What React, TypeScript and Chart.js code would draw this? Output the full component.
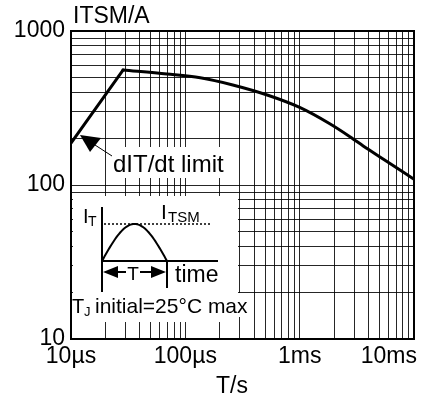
import { useEffect, useRef } from 'react';
import { Chart, registerables } from 'chart.js';

Chart.register(...registerables);

// ---- data ----
const riseT = [1e-5, 2.85e-5];
const riseI = [187, 558];
const decayT = [2.85e-5, 6.9e-5, 1.35e-4, 2.6e-4, 5.2e-4, 1e-3, 1.85e-3, 2.75e-3, 3.85e-3, 5.8e-3, 1e-2];
const decayI = [558, 526, 497, 446, 384, 319, 249, 206, 173, 142, 109];

const xTickValues = [1e-5, 1e-4, 1e-3, 1e-2];
const xTickLabels = ['10µs', '100µs', '1ms', '10ms'];
const yTickValues = [10, 100, 1000];
const yTickLabels = ['10', '100', '1000'];

const yTitle = 'ITSM/A';
const xTitle = 'T/s';
const limitLabel = 'dIT/dt limit';
const insetConditionMain = 'T';
const insetConditionSub = 'J';
const insetConditionRest = 'initial=25°C max';

const FF = '"Liberation Sans", Arial, Helvetica, sans-serif';

function decadeTicks(lo: number, hi: number): number[] {
  const out: number[] = [];
  for (let e = lo; e < hi; e++) {
    for (let m = 1; m < 10; m++) out.push(m * Math.pow(10, e));
  }
  out.push(Math.pow(10, hi));
  return out;
}

const xGrid = decadeTicks(-5, -2);
const yGrid = decadeTicks(1, 3);

function near(a: number, b: number) {
  return Math.abs(a - b) <= Math.abs(b) * 1e-6;
}

const overlayPlugin = {
  id: 'overlay',
  beforeDatasetsDraw(chart: any) {
    const ctx = chart.ctx as CanvasRenderingContext2D;
    ctx.save();
    ctx.fillStyle = '#fff';
    // inset panel
    ctx.fillRect(73, 196, 165, 126);
    ctx.fillRect(73, 293, 178, 24);
    // label background
    ctx.fillRect(110, 147, 118, 31);
    ctx.restore();
  },
  afterDraw(chart: any) {
    const ctx = chart.ctx as CanvasRenderingContext2D;
    const ca = chart.chartArea;
    const xs = chart.scales.x;
    ctx.save();
    ctx.strokeStyle = '#000';
    ctx.fillStyle = '#000';
    ctx.lineWidth = 2;
    ctx.strokeRect(ca.left, ca.top, ca.right - ca.left, ca.bottom - ca.top);

    // x tick labels
    ctx.font = `23px ${FF}`;
    ctx.textBaseline = 'alphabetic';
    xTickValues.forEach((v, i) => {
      const px = xs.getPixelForValue(v);
      const last = i === xTickValues.length - 1;
      ctx.textAlign = last ? 'right' : 'center';
      ctx.fillText(xTickLabels[i], last ? px + 3 : px, 363);
    });

    // axis titles
    ctx.textAlign = 'center';
    ctx.fillText(xTitle, 232, 393);
    ctx.textAlign = 'left';
    ctx.fillText(yTitle, 73, 23);

    // dI/dt label with arrow
    ctx.font = `24px ${FF}`;
    ctx.fillText(limitLabel, 113, 172);
    ctx.beginPath();
    ctx.moveTo(80, 135);
    ctx.lineTo(101, 138);
    ctx.lineTo(90, 152);
    ctx.closePath();
    ctx.fill();
    ctx.lineWidth = 1;
    ctx.beginPath();
    ctx.moveTo(95, 145);
    ctx.lineTo(112, 156);
    ctx.stroke();

    // inset sketch
    ctx.lineWidth = 2;
    const seg = (x1: number, y1: number, x2: number, y2: number) => {
      ctx.beginPath();
      ctx.moveTo(x1, y1);
      ctx.lineTo(x2, y2);
      ctx.stroke();
    };
    seg(102, 207, 102, 292);
    seg(101, 261, 218, 261);
    seg(167, 261, 167, 288);
    ctx.beginPath();
    for (let k = 0; k <= 50; k++) {
      const u = k / 50;
      const x = 102 + 65 * u;
      const y = 261 - 37 * Math.sin(Math.PI * u);
      if (k === 0) ctx.moveTo(x, y);
      else ctx.lineTo(x, y);
    }
    ctx.stroke();
    ctx.setLineDash([2, 2]);
    ctx.lineWidth = 1.5;
    seg(104, 224, 212, 224);
    ctx.setLineDash([]);
    ctx.lineWidth = 2;
    seg(112, 272, 126, 272);
    seg(140, 272, 156, 272);
    ctx.beginPath();
    ctx.moveTo(103, 272);
    ctx.lineTo(118, 266);
    ctx.lineTo(118, 278);
    ctx.closePath();
    ctx.fill();
    ctx.beginPath();
    ctx.moveTo(166, 272);
    ctx.lineTo(151, 266);
    ctx.lineTo(151, 278);
    ctx.closePath();
    ctx.fill();

    ctx.textAlign = 'center';
    ctx.font = `19px ${FF}`;
    ctx.fillText('T', 133, 280);

    ctx.textAlign = 'left';
    ctx.font = `20px ${FF}`;
    ctx.fillText('I', 83, 223);
    ctx.font = `14px ${FF}`;
    ctx.fillText('T', 88, 226);

    ctx.font = `21px ${FF}`;
    ctx.fillText('I', 161, 219);
    ctx.font = `15px ${FF}`;
    ctx.fillText('TSM', 168, 222);

    ctx.font = `23px ${FF}`;
    ctx.fillText('time', 175, 282);

    ctx.font = `20px ${FF}`;
    ctx.fillText(insetConditionMain, 72, 313);
    ctx.font = `13px ${FF}`;
    ctx.fillText(insetConditionSub, 84, 316);
    ctx.font = `21px ${FF}`;
    ctx.fillText(insetConditionRest, 95, 313);

    ctx.restore();
  },
};

export default function App() {
  const ref = useRef<HTMLCanvasElement>(null);

  useEffect(() => {
    document.body.style.margin = '0';
    const canvas = ref.current;
    if (!canvas) return;
    const chart = new Chart(canvas, {
      type: 'line',
      data: {
        datasets: [
          {
            label: 'rise',
            data: riseT.map((t, i) => ({ x: t, y: riseI[i] })),
            borderColor: '#000',
            borderWidth: 3,
            pointRadius: 0,
            borderCapStyle: 'round',
            tension: 0,
          },
          {
            label: 'decay',
            data: decayT.map((t, i) => ({ x: t, y: decayI[i] })),
            borderColor: '#000',
            borderWidth: 3,
            pointRadius: 0,
            borderCapStyle: 'round',
            cubicInterpolationMode: 'monotone',
          },
        ],
      },
      options: {
        animation: false,
        responsive: false,
        devicePixelRatio: 1,
        layout: { padding: { left: 0, top: 31, right: 8, bottom: 0 } },
        plugins: { legend: { display: false }, tooltip: { enabled: false } },
        scales: {
          x: {
            type: 'logarithmic',
            min: 1e-5,
            max: 1e-2,
            afterBuildTicks: (s: any) => {
              s.ticks = xGrid.map((v) => ({ value: v }));
            },
            afterFit: (s: any) => {
              s.height = 62;
            },
            ticks: { display: false, autoSkip: false },
            grid: { color: 'rgba(0,0,0,0.85)', lineWidth: 1, drawTicks: false },
            border: { display: true, color: '#000', width: 2 },
          },
          y: {
            type: 'logarithmic',
            min: 10,
            max: 1000,
            afterBuildTicks: (s: any) => {
              s.ticks = yGrid.map((v) => ({ value: v }));
            },
            afterFit: (s: any) => {
              s.width = 71;
            },
            ticks: {
              autoSkip: false,
              padding: 6,
              color: '#000',
              font: { family: FF, size: 23 },
              callback: (value: any) => {
                const i = yTickValues.findIndex((v) => near(Number(value), v));
                return i >= 0 ? yTickLabels[i] : '';
              },
            },
            grid: { color: 'rgba(0,0,0,0.85)', lineWidth: 1, drawTicks: false },
            border: { display: true, color: '#000', width: 2 },
          },
        },
      },
      plugins: [overlayPlugin],
    } as any);
    return () => chart.destroy();
  }, []);

  return (
    <div style={{ width: 422, height: 401, background: '#fff' }}>
      <canvas ref={ref} width={422} height={401} style={{ width: 422, height: 401, display: 'block' }} />
    </div>
  );
}
